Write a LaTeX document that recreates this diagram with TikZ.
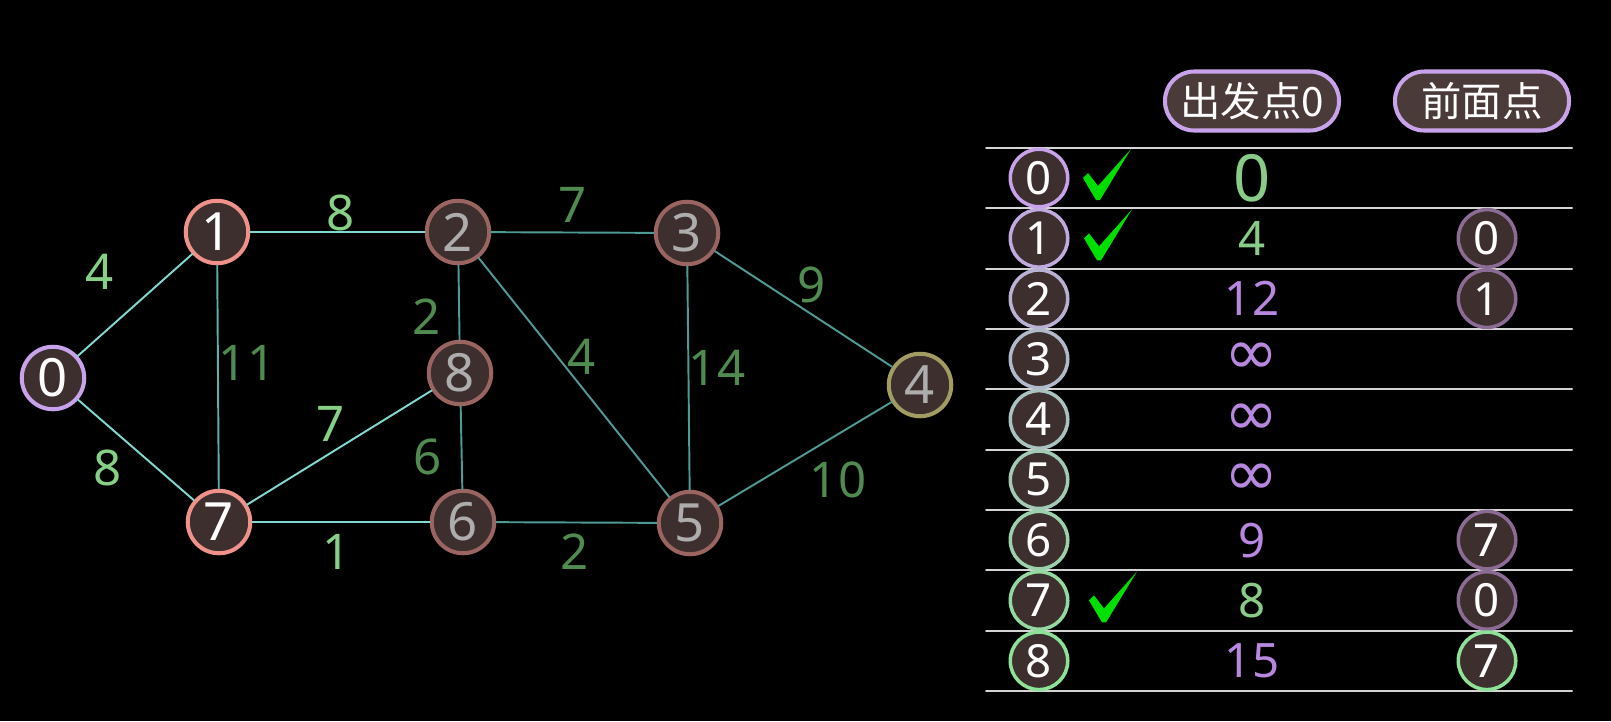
\documentclass[tikz,border=0pt]{standalone}
\usepackage{fontspec}
\setmainfont{Noto Sans}
\newfontfamily\cjk{Noto Sans CJK SC}
\newfontfamily\symfont{DejaVu Sans}
\newcommand\infsym{{\symfont\fontsize{37}{38}\selectfont ∞}}
\definecolor{nodebg}{HTML}{3D2F2D}
\definecolor{pillbg}{HTML}{4A3A38}
\definecolor{lav}{HTML}{C8A2EA}
\definecolor{mint}{HTML}{8CE296}
\definecolor{salmon}{HTML}{F0918A}
\definecolor{rose}{HTML}{9A6561}
\definecolor{olive}{HTML}{A39C62}
\definecolor{greytext}{HTML}{ADADAD}
\definecolor{edgehi}{HTML}{80D8D0}
\definecolor{edgemid}{HTML}{5FAEA8}
\definecolor{edgelo}{HTML}{4E9A95}
\definecolor{wlight}{HTML}{86D086}
\definecolor{wdark}{HTML}{4F8A4F}
\definecolor{distgreen}{HTML}{88CC88}
\definecolor{distpurple}{HTML}{B888E0}
\definecolor{prevpurple}{HTML}{8C6C94}
\definecolor{rulegrey}{HTML}{D4D4D4}
\definecolor{tickgreen}{HTML}{00E000}
\begin{document}
\begin{tikzpicture}[x=0.02cm, y=-0.02cm, line join=round, line cap=round,
  vert/.style={circle, draw=#1, fill=nodebg, line width=2.3pt, minimum size=1.25cm, inner sep=0pt, font=\fontsize{30}{32}\selectfont},
  idx/.style={circle, draw=#1, fill=nodebg, line width=2pt, minimum size=1.15cm, inner sep=0pt, text=white, font=\fontsize{26}{28}\selectfont},
  wt/.style={text=#1, font=\fontsize{28}{30}\selectfont},
  dist/.style={text=#1, font=\fontsize{27}{29}\selectfont},
  pill/.style={draw=lav, fill=pillbg, line width=2.3pt, rounded corners=0.58cm, minimum width=3.48cm, minimum height=1.18cm, text=white, font=\cjk\fontsize{23}{25}\selectfont},
  rowline/.style={draw=rulegrey, line width=1.1pt},
  checkmark/.pic={\fill[tickgreen] (-23,3) -- (-18,-2) -- (-8,11) -- (25,-26) -- (-6,25) -- (-10,25) -- cycle;},
]
\fill[black] (0,0) rectangle (1611,721);
% graph
\foreach \n/\x/\y/\c/\t in {0/53/378/lav/white, 1/217/232/salmon/white, 2/458/232/rose/greytext,
  3/687/233/rose/greytext, 4/920/385/olive/greytext, 5/690/523/rose/greytext,
  6/463/522/rose/greytext, 7/219/522/salmon/white, 8/460/373/rose/greytext}
  \node[vert=\c, text=\t] (v\n) at (\x,\y) {\n};
\foreach \a/\b/\e/\w/\lx/\ly/\lc in {0/1/edgehi/4/100/272/wlight, 0/7/edgehi/8/108/468/wlight,
  1/2/edgehi/8/341/213/wlight, 1/7/edgemid/11/247/363/wdark, 7/8/edgehi/7/331/424/wlight,
  7/6/edgehi/1/337/552/wlight, 2/3/edgelo/7/573/205/wdark, 2/8/edgelo/2/427/317/wdark,
  2/5/edgelo/4/582/357/wdark, 8/6/edgelo/6/428/457/wdark, 6/5/edgelo/2/575/552/wdark,
  3/5/edgelo/14/717/368/wdark, 3/4/edgelo/9/812/285/wdark, 5/4/edgelo/10/838/480/wdark}{
  \draw[\e, line width=1.1pt] (v\a) -- (v\b);
  \node[wt=\lc] (w\a\b) at (\lx,\ly) {\w};
}
% table
\node[pill] (hdist) at (1252,101) {出发点0};
\node[pill] (hprev) at (1482,101) {前面点};
\foreach \k in {0,...,9}
  \draw[rowline] (986,{148+60.35*\k}) -- (1572,{148+60.35*\k});
\foreach \r [evaluate=\r as \m using {100-12.5*\r}] in {0,...,8}
  \node[idx={lav!\m!mint}] (i\r) at (1039,{178+60.35*\r}) {\r};
\node[dist=distgreen, font=\fontsize{37}{39}\selectfont] (d0) at (1252,178) {0};
\foreach \r/\d/\c in {1/4/distgreen, 2/12/distpurple, 3/\infsym/distpurple, 4/\infsym/distpurple,
  5/\infsym/distpurple, 6/9/distpurple, 7/8/distgreen, 8/15/distpurple}
  \node[dist=\c] (d\r) at (1252,{178+60.35*\r}) {\d};
\foreach \r/\p/\c in {1/0/prevpurple, 2/1/prevpurple, 6/7/prevpurple, 7/0/prevpurple, 8/7/mint}
  \node[idx=\c] (p\r) at (1487,{178+60.35*\r}) {\p};
\foreach \r/\x in {0/1106, 1/1107, 7/1112}
  \pic at (\x,{175+60.35*\r}) {checkmark};
\end{tikzpicture}
\end{document}
